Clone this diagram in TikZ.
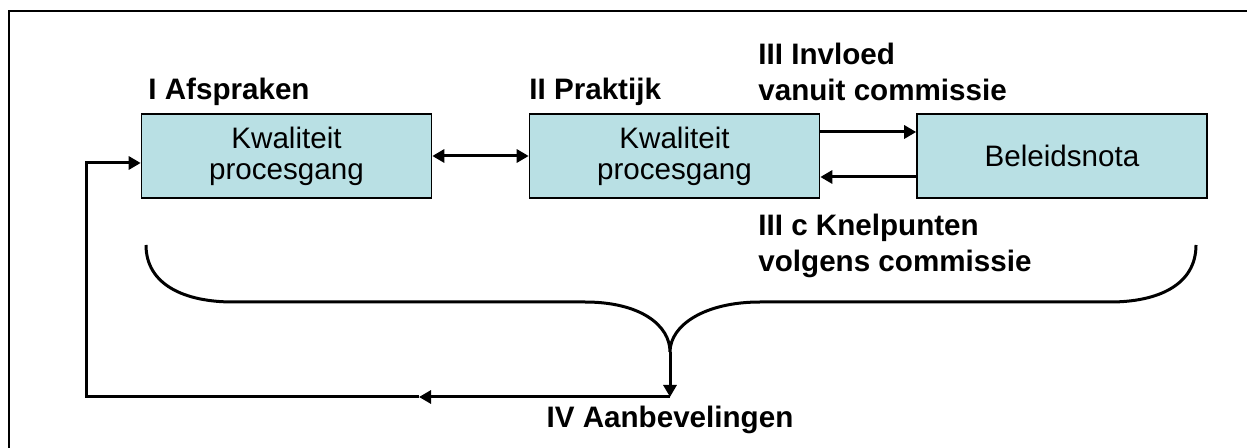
\documentclass[tikz,border=0pt]{standalone}
\usepackage{fontspec}
\setmainfont{Liberation Sans}
\usepackage{tikz}
\usetikzlibrary{arrows.meta}
\definecolor{boxfill}{RGB}{185,224,228}
\tikzset{blok/.style = {draw, fill = boxfill, line width = 0.8pt, minimum width = 145pt, minimum height = 42pt, inner sep = 0pt, align = center, font = \fontsize{14.8}{15.5}\selectfont}}
\tikzset{kop/.style = {inner sep = 0pt, align = left, font = \fontsize{14.8}{18}\selectfont\bfseries}}
\tikzset{pijl/.style = {line width = 1.5pt, -{Triangle[length = 6pt, width = 6.5pt]}}}
\tikzset{dubbelpijl/.style = {line width = 1.5pt, {Triangle[length = 6pt, width = 6.5pt]}-{Triangle[length = 6pt, width = 6.5pt]}}}

\begin{document}
\begin{tikzpicture}[x = 0.5pt, y = -0.5pt]
    \useasboundingbox (0, 0) rectangle (1247, 448);
    \draw [line width = 1pt] (9, 448) -- (9, 11) -- (1247, 11);
    \node [blok] (k1) at (286.5, 156) {Kwaliteit\\procesgang};
    \node [blok] (k2) at (674.5, 156) {Kwaliteit\\procesgang};
    \node [blok] (nota) at (1062, 156) {Beleidsnota};
    \foreach \x\y\i\t in {148/100/1/{I Afspraken}, 529/100/2/{II Praktijk}, 758/101/3/{III Invloed\\vanuit commissie}, 758/272/4/{III c Knelpunten\\volgens commissie}} {
        \node [kop, anchor = base west] (kop\i) at (\x, \y) {\t};
    }
    \node [kop, anchor = base] (kop5) at (670, 428) {IV Aanbevelingen};
    \draw [dubbelpijl] (k1) -- (k2);
    \draw [pijl] ([yshift = 12pt]k2.east) -- ([yshift = 12pt]nota.west);
    \draw [pijl] ([yshift = -10.5pt]nota.west) -- ([yshift = -10.5pt]k2.east);
    % accolade onder de blokken
    \draw [line width = 1.5pt] (146, 245) .. controls (146, 285) and (185, 302) .. (233, 302) -- (585, 302) .. controls (640, 302) and (670, 325) .. (670, 352) .. controls (670, 325) and (705, 302) .. (760, 302) -- (1110, 302) .. controls (1158, 302) and (1196, 285) .. (1196, 245);
    \coordinate (punt) at (670, 352);
    \coordinate (onder) at (670, 397);
    \coordinate (midden) at (419, 397);
    \coordinate (hoek) at (86, 397);
    \coordinate (terug) at ([yshift = -3.5pt]k1.west);
    \draw [pijl] (punt) -- (onder);
    \draw [pijl] (onder) -- (midden);
    \draw [pijl] (midden) -- (hoek) |- (terug);
\end{tikzpicture}
\end{document}
